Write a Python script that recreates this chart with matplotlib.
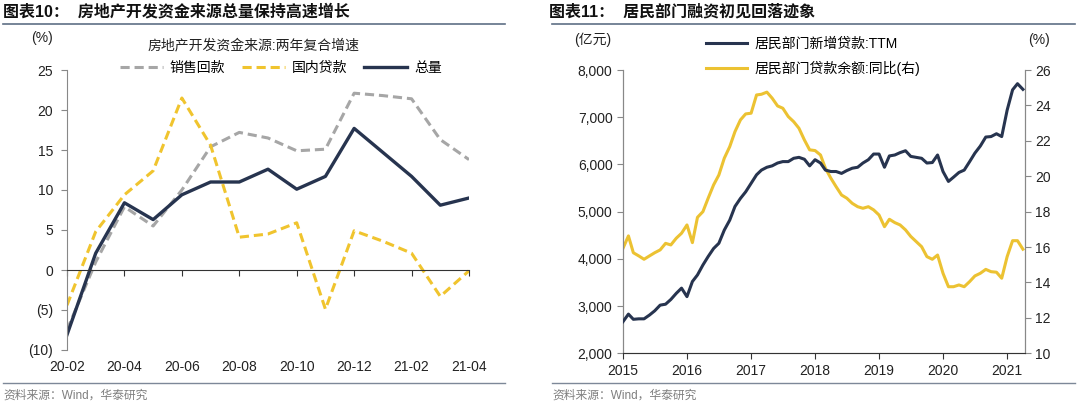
import numpy as np
import pandas as pd
import matplotlib
matplotlib.use('Agg')
import matplotlib.pyplot as plt
from matplotlib.lines import Line2D

plt.rcParams['font.family'] = ['Liberation Sans', 'Noto Sans CJK SC', 'DejaVu Sans']
plt.rcParams['axes.unicode_minus'] = False

# ---- left chart data: 两年复合增速 (%)
months_l = ['20-02', '20-03', '20-04', '20-05', '20-06', '20-07', '20-08', '20-09',
            '20-10', '20-11', '20-12', '21-01', '21-02', '21-03', '21-04']
sales = [-7.5, 1.0, 7.9, 5.5, 10.0, 15.4, 17.2, 16.5, 14.9, 15.1, 22.1, 21.8, 21.4, 16.3, 13.8]
domestic = [-4.4, 4.8, 9.4, 12.4, 21.5, 15.6, 4.1, 4.5, 5.9, -4.9, 4.9, 3.6, 2.1, -3.3, -0.1]
total = [-8.1, 2.1, 8.4, 6.3, 9.4, 11.0, 11.0, 12.6, 10.1, 11.7, 17.7, 14.7, 11.7, 8.1, 9.0]
ytick_l = [-10, -5, 0, 5, 10, 15, 20, 25]
ytick_l_lab = ['(10)', '(5)', '0', '5', '10', '15', '20', '25']

# ---- right chart data (monthly, 2015-01 .. 2021-04)
loan_ttm = [2670, 2830, 2720, 2730, 2730, 2810, 2900, 3020, 3040, 3140, 3270, 3380,
            3200, 3520, 3660, 3870, 4050, 4220, 4330, 4610, 4820, 5110, 5280, 5420,
            5600, 5780, 5880, 5940, 5970, 6030, 6060, 6060, 6130, 6150, 6110, 5970,
            6100, 6030, 5880, 5850, 5850, 5810, 5870, 5920, 5940, 6030, 6100, 6220,
            6220, 5940, 6180, 6200, 6250, 6290, 6170, 6150, 6130, 6030, 6040, 6200,
            5850, 5640, 5730, 5830, 5880, 6060, 6240, 6390, 6580, 6590, 6650, 6590,
            7150, 7580, 7710, 7590]
loan_yoy = [15.93, 16.63, 15.68, 15.50, 15.31, 15.50, 15.68, 15.84, 16.21, 16.12, 16.50, 16.78,
            17.25, 16.25, 17.68, 18.00, 18.76, 19.51, 20.07, 21.02, 21.67, 22.52, 23.18, 23.52,
            23.56, 24.59, 24.63, 24.75, 24.41, 23.97, 23.84, 23.37, 23.08, 22.71, 22.05, 21.49,
            21.45, 21.20, 20.45, 19.89, 19.41, 18.94, 18.76, 18.47, 18.28, 18.19, 18.28, 18.10,
            17.81, 17.15, 17.57, 17.38, 17.25, 16.97, 16.60, 16.31, 16.02, 15.46, 15.31, 15.55,
            14.52, 13.76, 13.76, 13.86, 13.76, 14.05, 14.37, 14.52, 14.74, 14.61, 14.58, 14.24,
            15.46, 16.36, 16.36, 15.88]
dates_r = pd.date_range('2015-01-01', periods=len(loan_ttm), freq='MS')
years_r = [2015, 2016, 2017, 2018, 2019, 2020, 2021]

navy = '#27344f'
yellow_l = '#f0c42e'
yellow_r = '#ecc232'
gray = '#a6a6a6'
txt = '#222222'
W, H = 1080, 408

fig = plt.figure(figsize=(10.8, 4.08), dpi=100)

# ---------- left panel ----------
ax = fig.add_axes([67/W, 1-350/H, (469-67)/W, (350-70)/H])
x = np.arange(len(months_l))
l1, = ax.plot(x, sales, color=gray, lw=2.2, ls=(0, (3, 1.6)))
l2, = ax.plot(x, domestic, color=yellow_l, lw=2.2, ls=(0, (3, 1.6)))
l3, = ax.plot(x, total, color=navy, lw=2.4)
ax.set_xlim(0, len(months_l) - 1)
ax.set_ylim(-10, 25)
ax.set_yticks(ytick_l)
ax.set_yticklabels(ytick_l_lab)
ax.set_xticks(x[::2])
ax.set_xticklabels(months_l[::2])
for s in ['top', 'right']:
    ax.spines[s].set_visible(False)
ax.spines['bottom'].set_position(('data', 0))
ax.spines['bottom'].set_color('#333333')
ax.spines['left'].set_color('#888888')
ax.tick_params(axis='y', direction='out', length=4, color='#888888', labelsize=10, labelcolor=txt, pad=6)
ax.tick_params(axis='x', direction='out', length=4, color='#333333', labelsize=10, labelcolor=txt, pad=61)
fig.text(42/W, 1-38/H, '(%)', fontsize=10, color=txt, ha='center', va='center')
fig.text(253/W, 1-45/H, '房地产开发资金来源:两年复合增速', fontsize=10, color=txt, ha='center', va='center')
ax.legend([l1, l2, l3], ['销售回款', '国内贷款', '总量'], ncol=3, frameon=False,
          fontsize=10, loc='center', bbox_to_anchor=(281/W, 1-68/H), bbox_transform=fig.transFigure,
          handlelength=3.1, columnspacing=1.2, handletextpad=0.5, borderaxespad=0)

# ---------- right panel ----------
axr = fig.add_axes([623/W, 1-353.3/H, (1024.5-623)/W, (353.3-70)/H])
axr2 = axr.twinx()
r1, = axr.plot(dates_r, loan_ttm, color=navy, lw=2.2, zorder=3)
r2, = axr2.plot(dates_r, loan_yoy, color=yellow_r, lw=2.2)
axr.set_zorder(axr2.get_zorder() + 1)
axr.patch.set_visible(False)
axr.set_xlim(pd.Timestamp('2015-01-01'), pd.Timestamp('2021-04-10'))
axr.set_ylim(2000, 8000)
axr.set_yticks(np.arange(2000, 8001, 1000))
axr.yaxis.set_major_formatter(matplotlib.ticker.StrMethodFormatter('{x:,.0f}'))
axr2.set_ylim(10, 26)
axr2.set_yticks(np.arange(10, 27, 2))
axr.set_xticks([pd.Timestamp(f'{y}-01-01') for y in years_r])
axr.set_xticklabels([str(y) for y in years_r])
for a in (axr, axr2):
    a.spines['top'].set_visible(False)
    for s in ['left', 'right', 'bottom']:
        a.spines[s].set_color('#888888')
    a.tick_params(direction='out', length=4, color='#888888', labelsize=10, labelcolor=txt)
axr.spines['bottom'].set_color('#333333')
axr.tick_params(axis='x', color='#333333', pad=4)
fig.text(593/W, 1-40/H, '(亿元)', fontsize=10, color=txt, ha='center', va='center')
fig.text(1039/W, 1-40/H, '(%)', fontsize=10, color=txt, ha='center', va='center')
axr.legend([r1, r2], ['居民部门新增贷款:TTM', '居民部门贷款余额:同比(右)'], frameon=False,
           fontsize=10, loc='upper left', bbox_to_anchor=(700/W, 1-31/H), bbox_transform=fig.transFigure,
           handlelength=3.0, handletextpad=0.5, labelspacing=0.75, borderaxespad=0)

# ---------- titles, rules, source ----------
fig.text(3/W, 1-12/H, '图表10：  房地产开发资金来源总量保持高速增长', fontsize=11.5,
         fontweight='bold', color='#111111', va='center', ha='left')
fig.text(549/W, 1-12/H, '图表11：  居民部门融资初见回落迹象', fontsize=11.5,
         fontweight='bold', color='#111111', va='center', ha='left')
for x0, x1 in [(3, 505), (552, 1075)]:
    fig.add_artist(Line2D([x0/W, x1/W], [1-24/H, 1-24/H], color='#5f6f85', lw=1.2))
    fig.add_artist(Line2D([x0/W, x1/W], [1-383/H, 1-383/H], color='#7d8898', lw=1.0))
fig.text(3/W, 1-396/H, '资料来源：Wind，华泰研究', fontsize=8.5, color='#7f7f7f', va='center', ha='left')
fig.text(552/W, 1-396/H, '资料来源：Wind，华泰研究', fontsize=8.5, color='#7f7f7f', va='center', ha='left')

fig.savefig('out.png', dpi=100, facecolor='white')
